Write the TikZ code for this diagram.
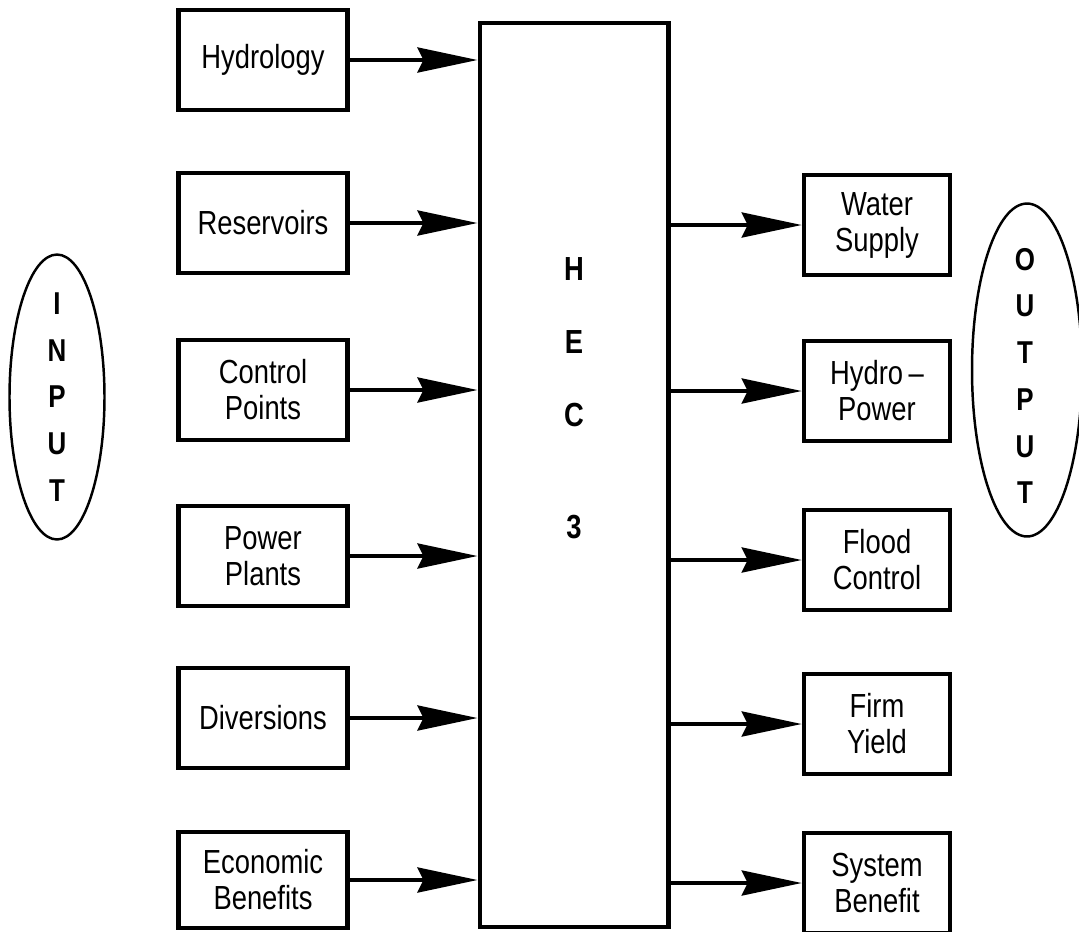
\documentclass[tikz,border=0pt]{standalone}
\usepackage{fontspec}
\setmainfont{Liberation Sans}[FakeStretch=0.82]
\usetikzlibrary{shapes.geometric, arrows.meta}

\begin{document}
\begin{tikzpicture}[x=0.02cm, y=-0.02cm,
        inbox/.style={draw, line width=2.6pt, minimum width=3.38cm, minimum height=2cm, align=center, font=\fontsize{19}{20.5}\selectfont},
        outbox/.style={inbox, minimum width=2.92cm},
        feed/.style={line width=2.3pt, -{Stealth[length=1.2cm, width=0.5cm, inset=0.12cm]}},
        tag/.style={draw, ellipse, line width=1.4pt, inner sep=0pt},
        letters/.style={align=center, inner sep=0pt, font=\fontsize{18}{26.6}\selectfont\bfseries}]

        % Fix the page to the picture size
        \useasboundingbox (0,0) rectangle (1079,931);

        % Draw the HEC 3 block in the middle
        \node[draw, line width=2.3pt, minimum width=3.78cm, minimum height=18.08cm] (hec) at (574,475) {};
        \node[align=center, font=\fontsize{19}{41.5}\selectfont\bfseries] (hecname) at (574,398) {H\\E\\C\\[22pt]3};

        % Draw the input boxes
        \node[inbox] (hyd) at (263,60) {Hydrology};
        \node[inbox] (res) at (263,223) {Reservoirs};
        \node[inbox] (cp) at (263,390) {Control\\Points};
        \node[inbox] (pp) at (263,556) {Power\\Plants};
        \node[inbox] (div) at (263,718) {Diversions};
        \node[inbox, minimum height=1.92cm] (eb) at (263,880) {Economic\\Benefits};

        % Draw the output boxes
        \node[outbox] (ws) at (877,225) {Water\\Supply};
        \node[outbox] (hp) at (877,391) {Hydro\,--\\Power};
        \node[outbox] (fc) at (877,560) {Flood\\Control};
        \node[outbox] (fy) at (877,724) {Firm\\Yield};
        \node[outbox] (sb) at (877,883) {System\\Benefit};

        % Draw the two ellipses with their letters
        \node[tag, minimum width=1.9cm, minimum height=5.7cm] (input) at (57,397) {};
        \node[letters] (inputname) at (input.center) {I\\N\\P\\U\\T};
        \node[tag, minimum width=2.2cm, minimum height=6.66cm] (output) at (1027,370) {};
        \node[letters] (outputname) at (1025,376) {O\\U\\T\\P\\U\\T};

        % Draw the arrows into HEC 3
        \draw[feed] (hyd.east) -- (hyd.east -| hec.west);
        \draw[feed] (res.east) -- (res.east -| hec.west);
        \draw[feed] (cp.east) -- (cp.east -| hec.west);
        \draw[feed] (pp.east) -- (pp.east -| hec.west);
        \draw[feed] (div.east) -- (div.east -| hec.west);
        \draw[feed] (eb.east) -- (eb.east -| hec.west);

        % Draw the arrows out of HEC 3
        \draw[feed] (ws.west -| hec.east) -- (ws.west);
        \draw[feed] (hp.west -| hec.east) -- (hp.west);
        \draw[feed] (fc.west -| hec.east) -- (fc.west);
        \draw[feed] (fy.west -| hec.east) -- (fy.west);
        \draw[feed] (sb.west -| hec.east) -- (sb.west);

    \end{tikzpicture}
\end{document}
